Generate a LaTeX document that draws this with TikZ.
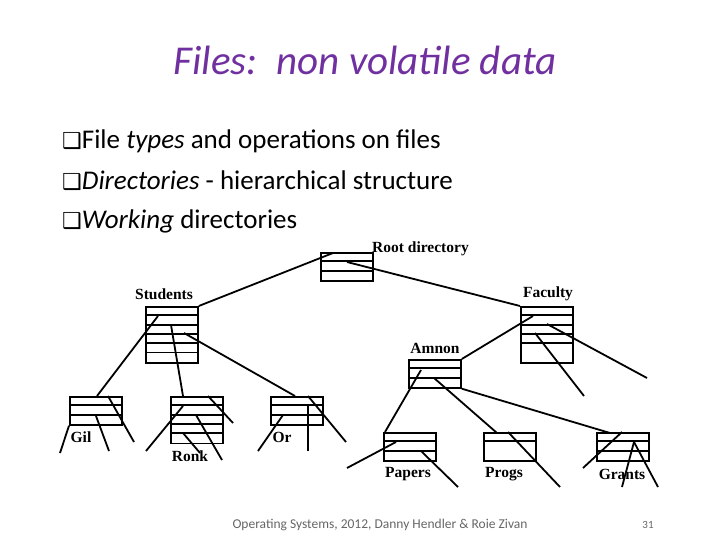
\documentclass[tikz,border=0pt]{standalone}
\usepackage{fontspec}
\setmainfont{Carlito}
\newfontfamily\lab{Liberation Serif}
\newfontfamily\dv{DejaVu Sans}
\usetikzlibrary{calc}
\definecolor{ttl}{RGB}{112,48,160}
\tikzset{
 dirbox/.style={draw,line width=1.8pt,rectangle,anchor=north west,minimum width=52pt,inner sep=0pt},
 lbl/.style={font=\lab\bfseries\fontsize{15.5}{16}\selectfont,inner sep=0pt},
 cn/.style={line width=1.8pt},
 bul/.style={anchor=west,font=\fontsize{27}{30}\selectfont,inner sep=0pt}
}
\newcommand\dbox[5]{%
 \node[dirbox,minimum height=#4*9.3pt] (#1) at (#2,#3) {};
 \foreach \i in {1,...,#5}{\draw[cn] ([yshift=-\i*9.3pt]#1.north west) -- ([yshift=-\i*9.3pt]#1.north east);}}
\newcommand\pt[3]{([shift={(#2,#3)}]#1.north west)}
\newcommand\bx{{\dv\fontsize{22}{24}\selectfont ❑}}
\begin{document}
\begin{tikzpicture}[x=1pt,y=-1pt]
\useasboundingbox (0,0) rectangle (720,540);
\node[font=\itshape\fontsize{41}{46}\selectfont,text=ttl] (title) at (365,60) {Files:\, non volatile data};
\node[bul] (b1) at (62,141) {\bx File \textit{types} and operations on files};
\node[bul] (b2) at (62,181) {\bx\textit{Directories} - hierarchical structure};
\node[bul] (b3) at (62,221) {\bx\textit{Working} directories};

\dbox{root}{320}{252}{3}{2}
\dbox{stu}{145}{306}{6}{5}
\dbox{fac}{520}{306}{6}{4}
\dbox{gil}{69}{396}{3}{2}
\dbox{ronk}{170}{396}{5}{4}
\dbox{or}{270}{396}{3}{2}
\dbox{amn}{408}{359}{3}{2}
\dbox{pap}{383}{432}{3}{2}
\dbox{prog}{483}{432}{3}{1}
\dbox{gra}{596}{432}{3}{2}

\node[lbl,anchor=west] (lroot) at (372,249) {Root directory};
\node[lbl] (lstu) at (164,294) {Students};
\node[lbl] (lfac) at (548,294) {Faculty};
\node[lbl] (lamn) at (435,348) {Amnon};
\node[lbl] (lgil) at (81,437) {Gil};
\node[lbl] (lronk) at (190,456) {Ronk};
\node[lbl] (lor) at (282,437) {Or};
\node[lbl] (lpap) at (408,474) {Papers};
\node[lbl] (lprog) at (504,474) {Progs};
\node[lbl] (lgra) at (622,474) {Grants};

\foreach \n/\a/\b in {e1/60/453, e2/109/451, e3/134/442, e4/146/451, e5/222/460, e6/200/453, e7/233/423,
 e8/346/442, e9/308/451, e10/258/451, e11/647/378, e12/584/396, e13/347/468, e14/458/487,
 e15/560/487, e16/583/468, e17/622/487, e18/658/487}
 {\coordinate (\n) at (\a,\b);}

\draw[cn] \pt{root}{13}{1} -- (stu.north east);
\draw[cn] \pt{root}{27}{10} -- (fac.north west);
\draw[cn] \pt{stu}{13}{10} -- \pt{gil}{28}{0};
\draw[cn] \pt{stu}{26}{19} -- \pt{ronk}{13}{0};
\draw[cn] \pt{stu}{39}{27} -- \pt{or}{25}{0};
\draw[cn] \pt{gil}{39}{0} -- (e3);
\draw[cn] \pt{gil}{27}{20} -- (e2);
\draw[cn] (gil.south west) -- (e1);
\draw[cn] \pt{ronk}{38}{0} -- (e7);
\draw[cn] \pt{ronk}{13}{10} -- (e4);
\draw[cn] \pt{ronk}{26}{19} -- (e5);
\draw[cn] \pt{ronk}{13}{37} -- (e6);
\draw[cn] \pt{or}{38}{0} -- (e8);
\draw[cn] \pt{or}{38}{10} -- (e9);
\draw[cn] \pt{or}{13}{19} -- (e10);
\draw[cn] \pt{fac}{13}{10} -- (amn.north east);
\draw[cn] \pt{fac}{27}{18} -- (e11);
\draw[cn] \pt{fac}{15}{27} -- (e12);
\draw[cn] \pt{amn}{13}{11} -- \pt{pap}{2}{0};
\draw[cn] \pt{amn}{26}{19} -- \pt{prog}{14}{1};
\draw[cn] (amn.south east) -- \pt{gra}{14}{1};
\draw[cn] \pt{pap}{13}{10} -- (e13);
\draw[cn] \pt{pap}{38}{19} -- (e14);
\draw[cn] \pt{prog}{25}{0} -- (e15);
\draw[cn] \pt{gra}{26}{0} -- (e16);
\draw[cn] \pt{gra}{38}{10} -- (e17);
\draw[cn] \pt{gra}{38}{10} -- (e18);

\node[font=\fontsize{13.5}{15}\selectfont,text=black!60] (foot) at (380,525) {Operating Systems, 2012, Danny Hendler \& Roie Zivan};
\node[font=\fontsize{11}{13}\selectfont,text=black!60] (pg) at (648,525) {31};
\end{tikzpicture}
\end{document}
